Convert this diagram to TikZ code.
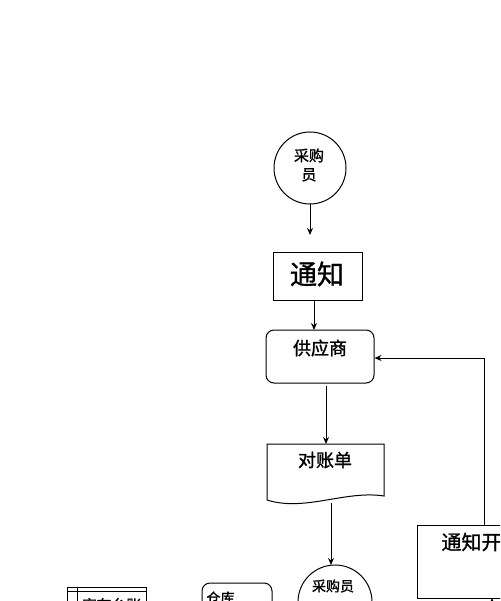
\documentclass[tikz,border=0pt]{standalone}
\usepackage{fontspec}
\newfontfamily\cjk[FakeBold=1.2]{Noto Sans CJK SC}
\usetikzlibrary{arrows.meta}
\begin{document}
\begin{tikzpicture}[x=1pt,y=-1pt,line width=1pt,
  >={Stealth[length=7pt,width=6pt]},
  shp/.style={draw,inner sep=0pt},
  lbl/.style={inner sep=0pt,font=\cjk\fontsize{#1}{#1}\selectfont},
  lbl/.default=16]
\useasboundingbox (0,0) rectangle (500,601);
\clip (0,0) rectangle (500,601);
% top circle
\node[shp,circle,minimum size=72pt] (c1) at (310,168) {};
\node[lbl=15,align=center,font=\cjk\fontsize{15}{19}\selectfont] (t1) at (309,165) {采购\\员};
\coordinate (a1) at (310,235);
\draw[->] (c1.south) -- (a1);
% notice box
\node[shp,minimum width=89pt,minimum height=48pt] (n1) at (317.5,276) {};
\node[lbl=27] (t2) at (317,274) {通知};
% supplier
\node[shp,rounded corners=8pt,minimum width=108pt,minimum height=53pt] (s) at (320,356.5) {};
\node[lbl=18] (t3) at (320,348) {供应商};
\coordinate (b1) at (314,300);
\coordinate (b2) at (314,330);
\draw[->] (b1) -- (b2);
% document
\draw (267,444) -- (384,444) -- (384,496) .. controls (345,490) and (305,512) .. (267,500) -- cycle;
\node[lbl=18] (t4) at (325,460) {对账单};
\coordinate (d1) at (326,386);
\coordinate (d2) at (326,444);
\draw[->] (d1) -- (d2);
% bottom circle
\node[shp,circle,minimum size=74pt] (c2) at (335,602) {};
\node[lbl=14] (t5) at (333,586) {采购员};
\coordinate (e1) at (331,503);
\coordinate (e2) at (331,565);
\draw[->] (e1) -- (e2);
% right box
\node[shp,minimum width=110pt,minimum height=73pt] (k) at (472,561.5) {};
\node[lbl=20,anchor=west] (t6) at (441,542) {通知开};
\coordinate (r1) at (484,525);
\coordinate (r2) at (484,358);
\draw[->] (r1) -- (r2) -- (s.east |- r2);
\coordinate (u1) at (492,615);
\coordinate (u2) at (492,598);
\draw[->] (u1) -- (u2);
% data store
\draw (67,615) -- (67,587) -- (146,587) -- (146,615);
\draw (67,591) -- (146,591);
\draw (77,587) -- (77,615);
\node[lbl=15,anchor=west] (t7) at (81,605) {库存台账};
% warehouse
\draw[rounded corners=8pt] (202,615) -- (202,583) -- (272,583) -- (272,615);
\node[lbl=14,anchor=west] (t8) at (206,598) {仓库};
\end{tikzpicture}
\end{document}
